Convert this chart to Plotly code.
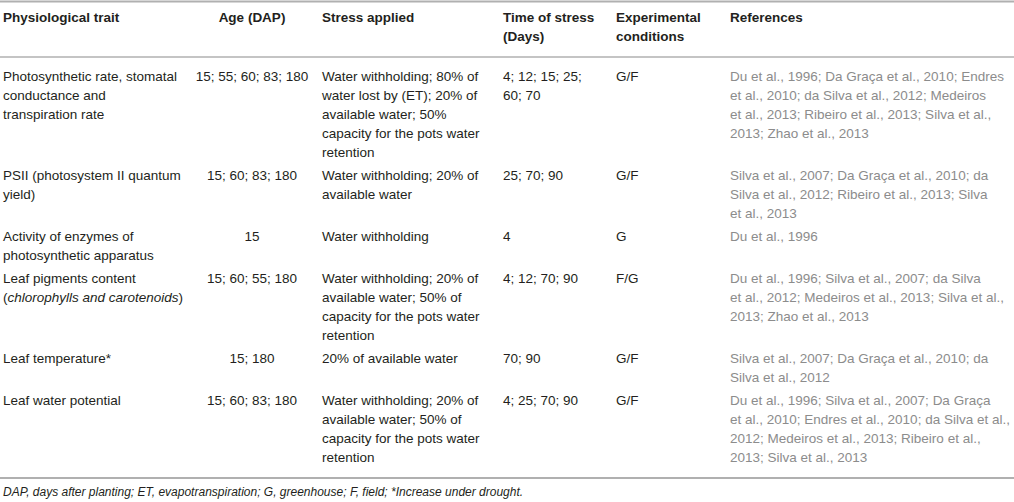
import plotly.graph_objects as go

# Table content (one entry per row, <br> marks the line breaks of the original)
headers = ["Physiological trait", "Age (DAP)", "Stress applied",
           "Time of stress<br>(Days)", "Experimental<br>conditions", "References"]

traits = [
    "Photosynthetic rate, stomatal<br>conductance and<br>transpiration rate",
    "PSII (photosystem II quantum<br>yield)",
    "Activity of enzymes of<br>photosynthetic apparatus",
    "Leaf pigments content<br>(<i>chlorophylls and carotenoids</i>)",
    "Leaf temperature*",
    "Leaf water potential",
]
ages = ["15; 55; 60; 83; 180", "15; 60; 83; 180", "15",
        "15; 60; 55; 180", "15; 180", "15; 60; 83; 180"]
stress = [
    "Water withholding; 80% of<br>water lost by (ET); 20% of<br>available water; 50%<br>capacity for the pots water<br>retention",
    "Water withholding; 20% of<br>available water",
    "Water withholding",
    "Water withholding; 20% of<br>available water; 50% of<br>capacity for the pots water<br>retention",
    "20% of available water",
    "Water withholding; 20% of<br>available water; 50% of<br>capacity for the pots water<br>retention",
]
stress_days = ["4; 12; 15; 25;<br>60; 70", "25; 70; 90", "4",
               "4; 12; 70; 90", "70; 90", "4; 25; 70; 90"]
conditions = ["G/F", "G/F", "G", "F/G", "G/F", "G/F"]
references = [
    "Du et al., 1996; Da Graça et al., 2010; Endres<br>et al., 2010; da Silva et al., 2012; Medeiros<br>et al., 2013; Ribeiro et al., 2013; Silva et al.,<br>2013; Zhao et al., 2013",
    "Silva et al., 2007; Da Graça et al., 2010; da<br>Silva et al., 2012; Ribeiro et al., 2013; Silva<br>et al., 2013",
    "Du et al., 1996",
    "Du et al., 1996; Silva et al., 2007; da Silva<br>et al., 2012; Medeiros et al., 2013; Silva et al.,<br>2013; Zhao et al., 2013",
    "Silva et al., 2007; Da Graça et al., 2010; da<br>Silva et al., 2012",
    "Du et al., 1996; Silva et al., 2007; Da Graça<br>et al., 2010; Endres et al., 2010; da Silva et al.,<br>2012; Medeiros et al., 2013; Ribeiro et al.,<br>2013; Silva et al., 2013",
]
footnote = ("DAP, days after planting; ET, evapotranspiration; G, greenhouse; "
            "F, field; *Increase under drought.")

# layout of the table (pixel units, y grows downward)
W, H = 1014, 502
col_x = [3, 252, 322, 503, 616, 730]
col_pos = ["middle right", "middle center", "middle right",
           "middle right", "middle right", "middle right"]
header_y = 19
header_rule = 57
first_line = 78
line_h = 19
row_gap = 4

dark = "#231f20"
grey = "#8c8c8c"
rule = "#b0b0b0"
font = "Liberation Sans, Arial, sans-serif"

columns = [traits, ages, stress, stress_days, conditions, references]
col_colors = [dark] * 5 + [grey]


def text_trace(xs, ys, texts, pos, size, color):
    return go.Scatter(x=xs, y=ys, text=texts, mode="text", textposition=pos,
                      marker=dict(size=0), cliponaxis=False,
                      textfont=dict(family=font, size=size, color=color),
                      hoverinfo="skip", showlegend=False)


fig = go.Figure()

# header
for x, pos, h in zip(col_x, col_pos, headers):
    parts = h.split("<br>")
    fig.add_trace(text_trace([x] * len(parts),
                             [header_y + i * line_h for i in range(len(parts))],
                             ["<b>%s</b>" % p for p in parts], pos, 13.5, dark))

# body: each row is as tall as its longest cell
row_tops = []
y = first_line
for r in range(len(traits)):
    row_tops.append(y)
    n = max(len(col[r].split("<br>")) for col in columns)
    y += n * line_h + row_gap
last_line = y - row_gap - line_h

for x, pos, col, color in zip(col_x, col_pos, columns, col_colors):
    xs, ys, texts = [], [], []
    for top, cell in zip(row_tops, col):
        for i, part in enumerate(cell.split("<br>")):
            xs.append(x)
            ys.append(top + i * line_h)
            texts.append(part)
    fig.add_trace(text_trace(xs, ys, texts, pos, 13.5, color))

# horizontal rules: top, under the header, bottom
bottom_rule = last_line + line_h
for yy, w in [(1.5, 2), (header_rule, 1.5), (bottom_rule, 2)]:
    fig.add_shape(type="line", xref="paper", yref="y", x0=0, x1=1,
                  y0=yy, y1=yy, line=dict(color=rule, width=w))

fig.add_trace(text_trace([col_x[0]], [bottom_rule + 15],
                         ["<i>%s</i>" % footnote], "middle right", 12, dark))

fig.update_xaxes(range=[0, W], visible=False, fixedrange=True)
fig.update_yaxes(range=[H, 0], visible=False, fixedrange=True)
fig.update_layout(width=W, height=H, margin=dict(l=0, r=0, t=0, b=0),
                  paper_bgcolor="white", plot_bgcolor="white")

# the page's default body margin would push the figure 8px right and down
fig.write_html("out.html", config={"displayModeBar": False},
               post_script="document.body.style.margin = '0';")
